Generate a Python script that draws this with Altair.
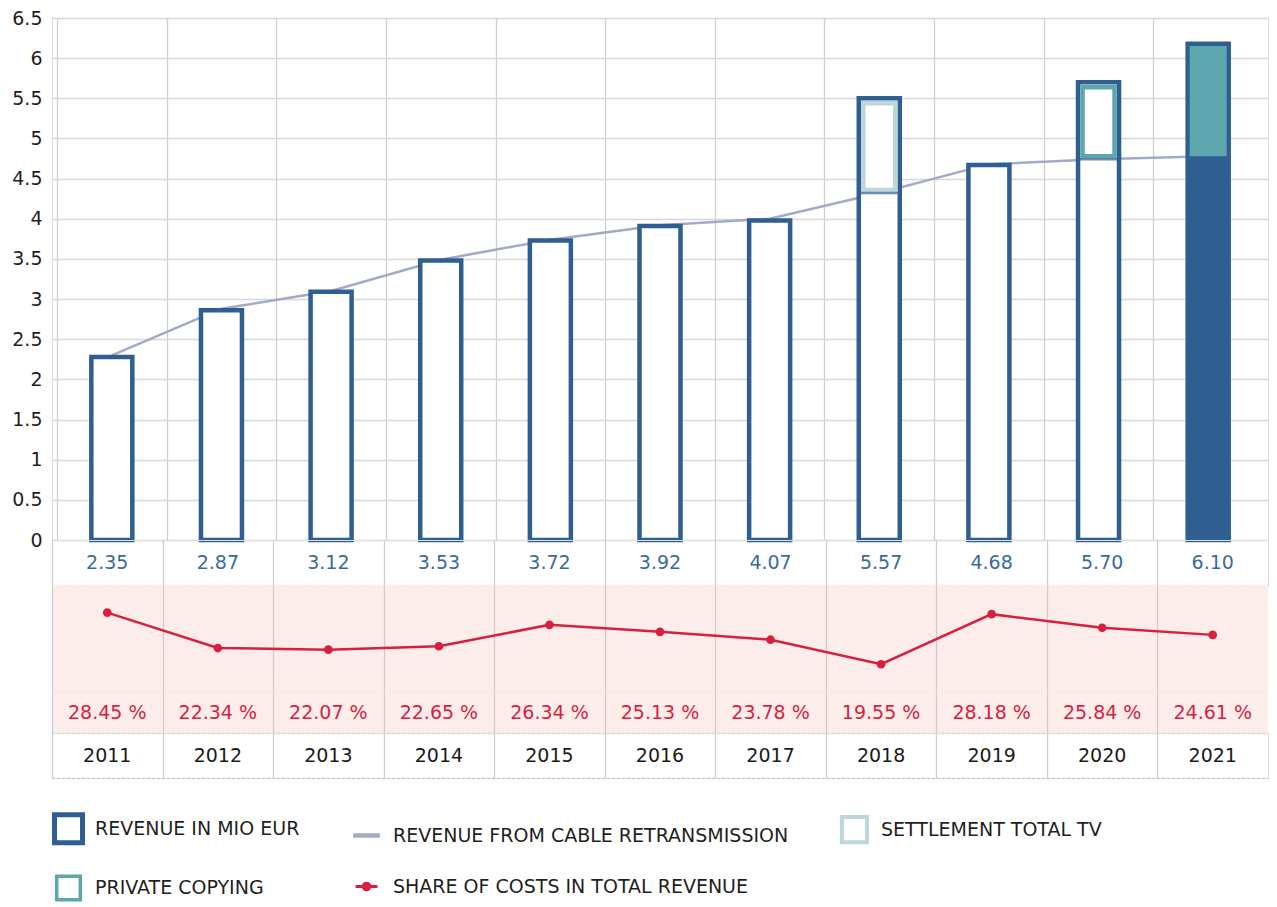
import altair as alt
import pandas as pd

# ---------------- data ----------------
years = [2011, 2012, 2013, 2014, 2015, 2016, 2017, 2018, 2019, 2020, 2021]
revenue = [2.35, 2.87, 3.12, 3.53, 3.72, 3.92, 4.07, 5.57, 4.68, 5.70, 6.10]        # printed values
bar_total = [2.28, 2.86, 3.09, 3.48, 3.73, 3.91, 3.98, 5.50, 4.67, 5.70, 6.18]      # drawn bar heights
cable = [2.30, 2.88, 3.10, 3.49, 3.74, 3.92, 4.00, 4.32, 4.68, 4.74, 4.78]          # cable retransmission line
share = [28.45, 22.34, 22.07, 22.65, 26.34, 25.13, 23.78, 19.55, 28.18, 25.84, 24.61]

extra_years = [2018, 2020, 2021]
extra_kind = ["SETTLEMENT TOTAL TV", "PRIVATE COPYING", "PRIVATE COPYING"]

y_ticks = [0, 0.5, 1, 1.5, 2, 2.5, 3, 3.5, 4, 4.5, 5, 5.5, 6, 6.5]
col_edges = [2010.5, 2011.5, 2012.5, 2013.5, 2014.5, 2015.5, 2016.5,
             2017.5, 2018.5, 2019.5, 2020.5]

legend_names = ["REVENUE IN MIO EUR", "REVENUE FROM CABLE RETRANSMISSION",
                "SETTLEMENT TOTAL TV", "PRIVATE COPYING",
                "SHARE OF COSTS IN TOTAL REVENUE"]

# ---------------- styles ----------------
FONT = "DejaVu Sans"
DARK = "#2f5e91"
LAV = "#a3aac9"
LIGHT = "#bdd6dc"
TEAL = "#5da6ad"
RED = "#d81f3f"
PINK = "#fcedea"
GRID = "#cdcdcd"
HGRID = "#d8d8d8"
VALUE_BLUE = "#3a6a9d"
DOT = "#c4c4c4"
W = 1216

df = pd.DataFrame({"year": years, "revenue": revenue, "bar_total": bar_total,
                   "cable": cable, "share": share})
seg_df = pd.DataFrame({
    "year": extra_years,
    "kind": extra_kind,
    "top": [bar_total[years.index(y)] for y in extra_years],
    "bottom": [cable[years.index(y)] for y in extra_years],
})
legend_df = pd.DataFrame({"series": legend_names})

xs = alt.Scale(domain=[2010.5, 2021.5], nice=False, zero=False)


def x_enc(domain=False, dash=None, dcolor=DOT):
    kw = dict(values=col_edges, grid=True, gridColor=GRID, gridWidth=1.3,
              labels=False, ticks=False, title=None, minExtent=0, maxExtent=0,
              domain=domain)
    if domain:
        kw.update(domainColor=dcolor, domainWidth=1.5)
        if dash:
            kw.update(domainDash=dash)
    return alt.X("year:Q", scale=xs, axis=alt.Axis(**kw))


ys = alt.Scale(domain=[0, 6.5], nice=False)
y_axis = alt.Axis(values=y_ticks, grid=True, gridColor=HGRID, gridWidth=1.6,
                  domain=False, ticks=False, labelPadding=10, labelFontSize=19,
                  labelColor="#1f1f1f", labelFont=FONT,
                  labelExpr="'' + datum.value", title=None,
                  minExtent=40, maxExtent=40)

# ---------------- top panel ----------------
line = alt.Chart(df).mark_line(color=LAV, strokeWidth=2.5).encode(
    x=x_enc(), y=alt.Y("cable:Q", scale=ys, axis=y_axis))

bars = alt.Chart(df).mark_bar(size=41, stroke=DARK, strokeWidth=4.5,
                              y2Offset=-3).encode(
    x=x_enc(), y=alt.Y("bar_total:Q", scale=ys, axis=y_axis),
    fill=alt.condition("datum.year == 2021", alt.value(DARK), alt.value("white")))

seg_outline = alt.Chart(seg_df).transform_filter("datum.year != 2021").mark_bar(
    size=32, fill="white", strokeWidth=4.5, yOffset=5, y2Offset=-3).encode(
    x=x_enc(), y=alt.Y("top:Q", scale=ys, axis=y_axis), y2="bottom:Q",
    stroke=alt.condition("datum.year == 2018", alt.value(LIGHT), alt.value(TEAL)))

seg_line = alt.Chart(seg_df).transform_filter("datum.year != 2021").mark_tick(
    orient="horizontal", size=37, thickness=2.5, color=DARK).encode(
    x=x_enc(), y=alt.Y("bottom:Q", scale=ys, axis=y_axis))

seg_fill = alt.Chart(seg_df).transform_filter("datum.year == 2021").mark_bar(
    size=37, fill=TEAL, strokeWidth=0, yOffset=2.3).encode(
    x=x_enc(), y=alt.Y("top:Q", scale=ys, axis=y_axis), y2="bottom:Q")

top = alt.layer(line, bars, seg_outline, seg_line, seg_fill).properties(
    width=W, height=522)

# ---------------- value row ----------------
row_values = alt.Chart(df).mark_text(font=FONT, fontSize=19, color=VALUE_BLUE).encode(
    x=x_enc(True, [2, 3]),
    text=alt.Text("revenue:Q", format=".2f")).properties(width=W, height=45)

# ---------------- share of costs ----------------
share_panel = alt.Chart(df).mark_line(
    color=RED, strokeWidth=2.5,
    point=alt.OverlayMarkDef(color=RED, size=75, filled=True)).encode(
    x=x_enc(True, None, "#e4dad8"),
    y=alt.Y("share:Q", scale=alt.Scale(domain=[14.6, 33.2], nice=False, zero=False),
            axis=None)).properties(
    width=W, height=108, view=alt.ViewBackground(fill=PINK, stroke=None))

row_pct = alt.Chart(df).transform_calculate(
    pct="format(datum.share, '.2f') + ' %'").mark_text(
    font=FONT, fontSize=19, color=RED).encode(
    x=x_enc(True, [2, 3]), text="pct:N").properties(
    width=W, height=40, view=alt.ViewBackground(fill=PINK, stroke=None))

# ---------------- year row + legend ----------------
row_year = alt.Chart(df).mark_text(font=FONT, fontSize=19, color="#1a1a1a").encode(
    x=x_enc(True, [2, 3]), text="year:N")

leg = alt.Legend(title=None, orient="bottom", direction="horizontal", columns=3,
                 columnPadding=44, rowPadding=16, labelFontSize=19,
                 labelFont=FONT, labelColor="#1f1f1f", labelLimit=0,
                 labelOffset=10, symbolOpacity=1, offset=33, padding=0)

custom_dot = "M-1,0H1M0.3,0A0.3,0.3,0,1,1,-0.3,0A0.3,0.3,0,1,1,0.3,0Z"
legend_layer = alt.Chart(legend_df).mark_point(opacity=0).encode(
    shape=alt.Shape("series:N", legend=leg, scale=alt.Scale(
        domain=legend_names, range=["square", "stroke", "square", "square", custom_dot])),
    stroke=alt.Stroke("series:N", legend=leg, scale=alt.Scale(
        domain=legend_names, range=[DARK, LAV, LIGHT, TEAL, RED])),
    fill=alt.Fill("series:N", legend=leg, scale=alt.Scale(
        domain=legend_names, range=["white", "white", "white", "white", RED])),
    size=alt.Size("series:N", legend=leg, scale=alt.Scale(
        domain=legend_names, range=[784, 484, 784, 784, 484])),
    strokeWidth=alt.StrokeWidth("series:N", legend=leg, scale=alt.Scale(
        domain=legend_names, range=[5, 3, 5, 5, 3])),
)

year_panel = alt.layer(row_year, legend_layer).properties(width=W, height=45)

chart = alt.vconcat(top, row_values, share_panel, row_pct, year_panel,
                    spacing=0, bounds="flush").properties(
    padding={"left": 3, "top": 0, "right": 0, "bottom": 0}
).configure_view(stroke=None).configure(font=FONT)

chart.save("out.html", embed_options={"renderer": "svg", "actions": False})
